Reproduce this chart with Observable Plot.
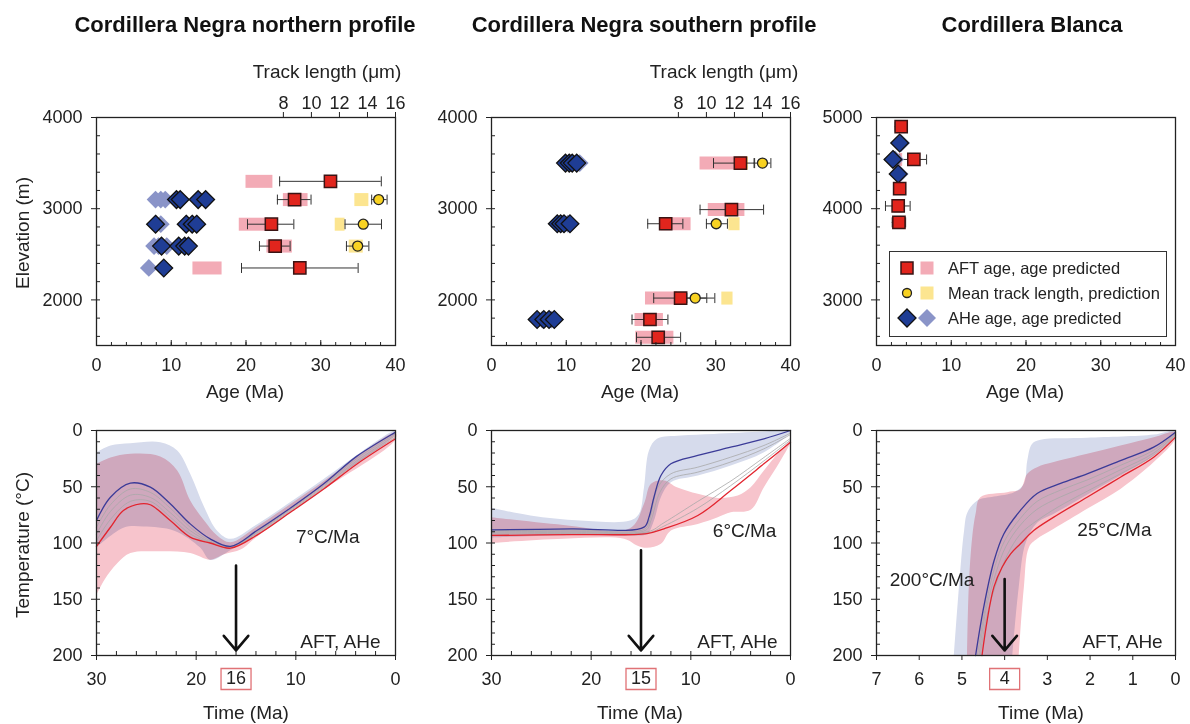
<!DOCTYPE html>
<html><head><meta charset="utf-8">
<script src="https://cdn.jsdelivr.net/npm/d3@7"></script>
<script src="https://cdn.jsdelivr.net/npm/@observablehq/plot@0.6"></script>
<style>
body{margin:0;background:#fff;font-family:"Liberation Sans",Arial,Helvetica,sans-serif;color:#222;}
#root{position:relative;width:1190px;height:724px;overflow:hidden;background:#fff;}
.t{position:absolute;white-space:nowrap;transform:translate(-50%,-50%);line-height:1;}
.title{font-weight:bold;font-size:22px;color:#111;}
.lab{font-size:19px;}
.rot{transform:translate(-50%,-50%) rotate(-90deg);}
</style></head><body><div id="root"></div>
<script>
// ---------------- data ----------------
const panelTitles = ["Cordillera Negra northern profile", "Cordillera Negra southern profile", "Cordillera Blanca"];
const trackTicks = [8, 10, 12, 14, 16];           // µm, top axis
const ageTicks = [0, 10, 20, 30, 40];

// Cordillera Negra northern profile
const northAFT = [
  {elev: 3300, age: 31.3, lo: 24.5, hi: 38.1},
  {elev: 3100, age: 26.5, lo: 24.2, hi: 28.7},
  {elev: 2830, age: 23.4, lo: 20.2, hi: 26.4},
  {elev: 2590, age: 23.9, lo: 21.8, hi: 25.9},
  {elev: 2350, age: 27.2, lo: 19.4, hi: 35.0}
];
const northAFTpred = [
  {elev: 3300, lo: 20.0, hi: 23.6},
  {elev: 3100, lo: 25.0, hi: 28.3},
  {elev: 2830, lo: 19.1, hi: 23.0},
  {elev: 2590, lo: 22.8, hi: 26.2},
  {elev: 2350, lo: 12.9, hi: 16.8}
];
const northMTL = [
  {elev: 3100, tl: 14.8, lo: 14.3, hi: 15.4},
  {elev: 2830, tl: 13.7, lo: 12.4, hi: 15.0},
  {elev: 2590, tl: 13.3, lo: 12.5, hi: 14.1}
];
const northMTLpred = [
  {elev: 3100, lo: 13.1, hi: 14.1},
  {elev: 2830, lo: 11.7, hi: 12.4},
  {elev: 2590, lo: 12.7, hi: 13.7}
];
const northAHe = [
  {elev: 3100, age: 10.7}, {elev: 3100, age: 11.2}, {elev: 3100, age: 13.6}, {elev: 3100, age: 14.6},
  {elev: 2830, age: 7.9}, {elev: 2830, age: 12.0}, {elev: 2830, age: 12.8}, {elev: 2830, age: 13.4},
  {elev: 2590, age: 8.7}, {elev: 2590, age: 11.0}, {elev: 2590, age: 11.8}, {elev: 2590, age: 12.3},
  {elev: 2350, age: 9.0}
];
const northAHePred = [
  {elev: 3100, age: 7.9}, {elev: 3100, age: 8.6}, {elev: 3100, age: 9.2},
  {elev: 2830, age: 8.6},
  {elev: 2590, age: 7.7}, {elev: 2590, age: 8.3}, {elev: 2590, age: 9.4},
  {elev: 2350, age: 7.0}
];

// Cordillera Negra southern profile
const southAFT = [
  {elev: 3500, age: 33.3, lo: 29.7, hi: 35.2},
  {elev: 2990, age: 32.1, lo: 27.9, hi: 36.4},
  {elev: 2835, age: 23.3, lo: 20.9, hi: 25.6},
  {elev: 2020, age: 25.3, lo: 21.7, hi: 28.8},
  {elev: 1785, age: 21.2, lo: 18.8, hi: 23.6},
  {elev: 1590, age: 22.3, lo: 19.4, hi: 25.3}
];
const southAFTpred = [
  {elev: 3500, lo: 27.9, hi: 34.2},
  {elev: 2990, lo: 29.0, hi: 33.9},
  {elev: 2835, lo: 22.7, hi: 26.7},
  {elev: 2020, lo: 20.6, hi: 24.9},
  {elev: 1785, lo: 19.2, hi: 23.0},
  {elev: 1590, lo: 19.3, hi: 24.4}
];
const southMTL = [
  {elev: 3500, tl: 14.0, lo: 13.4, hi: 14.6},
  {elev: 2835, tl: 10.7, lo: 10.0, hi: 11.5},
  {elev: 2020, tl: 9.2, lo: 8.6, hi: 10.6}
];
const southMTLpred = [
  {elev: 3500, lo: 12.3, hi: 13.0},
  {elev: 2835, lo: 11.6, hi: 12.4},
  {elev: 2020, lo: 11.1, hi: 11.9}
];
const southAHe = [
  {elev: 3500, age: 9.9}, {elev: 3500, age: 10.4}, {elev: 3500, age: 10.8}, {elev: 3500, age: 11.4},
  {elev: 2835, age: 8.8}, {elev: 2835, age: 9.25}, {elev: 2835, age: 9.7}, {elev: 2835, age: 10.5},
  {elev: 1785, age: 6.1}, {elev: 1785, age: 7.0}, {elev: 1785, age: 7.7}, {elev: 1785, age: 8.4}
];
const southAHePred = [
  {elev: 3500, age: 10.6}, {elev: 3500, age: 11.8},
  {elev: 2835, age: 9.4}, {elev: 2835, age: 10.2},
  {elev: 1785, age: 6.8}, {elev: 1785, age: 8.0}
];

// Cordillera Blanca
const blancaAFT = [
  {elev: 4900, age: 3.3, lo: 2.5, hi: 4.1},
  {elev: 4540, age: 5.0, lo: 3.1, hi: 6.7},
  {elev: 4220, age: 3.1, lo: 2.7, hi: 3.5},
  {elev: 4030, age: 2.9, lo: 1.2, hi: 4.5},
  {elev: 3850, age: 3.0, lo: 2.1, hi: 3.9}
];
const blancaAFTpred = [
  {elev: 4900, lo: 2.6, hi: 3.9},
  {elev: 4540, lo: 3.0, hi: 3.5},
  {elev: 4220, lo: 2.6, hi: 3.6},
  {elev: 4030, lo: 2.4, hi: 3.5},
  {elev: 3850, lo: 2.4, hi: 3.6}
];
const blancaAHe = [{elev: 4720, age: 3.1}, {elev: 4540, age: 2.2}, {elev: 4380, age: 2.9}];
const blancaAHePred = [{elev: 4720, age: 3.3}, {elev: 4540, age: 2.5}, {elev: 4380, age: 3.1}];

const legendLabels = ["AFT age, age predicted", "Mean track length, prediction", "AHe age, age predicted"];

// Thermal histories: [time (Ma), temperature (°C)]
const northBlue = [[30,80],[28.6,59.3],[26.6,46.8],[24.6,50.4],[22.6,65.2],[20.6,83],[18.6,96.3],[16.55,103],[13.9,88.9],[10.5,68.7],[7.2,47.4],[3.9,23],[0,1.5]];
const northRed = [[30,103],[28.6,86],[27.3,71.1],[25.6,65.2],[24.6,66],[22.6,80],[20.6,94.8],[18.6,100],[16.55,104.6],[13.9,93],[10.5,72.5],[7.2,52],[3.9,30],[0,7.4]];
const northGrays = [
  [[30,86],[28.6,66],[26.6,52],[24.6,55],[22.6,69],[20.6,86],[18.6,98],[16.55,103.3],[13.9,90],[10.5,70],[7.2,49],[3.9,25],[0,3]],
  [[30,92],[28.6,72],[26.6,57.5],[24.6,59.5],[22.6,73],[20.6,89],[18.6,99],[16.55,103.8],[13.9,91],[10.5,71],[7.2,50],[3.9,27],[0,4.5]],
  [[30,98],[28.6,79],[26.6,63],[24.6,63],[22.6,77],[20.6,92],[18.6,99.5],[16.55,104.2],[13.9,92],[10.5,72],[7.2,51],[3.9,28.5],[0,6]]
];
const northBlueEnv = [[30,19.3],[28.6,13.3],[26.6,11.3],[23.6,10.4],[21.9,17.8],[20.6,38.5],[19.2,68],[17.9,89],[16.55,96.3],[14,84],[8,48],[0,0],
  [0,3],[8,54],[14,92],[16.5,106],[18.6,115],[19.6,104],[22.2,89],[25.3,85.3],[27.3,86.5],[30,104]];
const northPinkEnv = [[30,29.6],[28.6,24],[26.6,20.7],[23.6,23],[21.9,35.5],[20.6,62.2],[19.2,80],[17.9,93.3],[16.55,99.3],[14,86],[8,50],[0,2],
  [0,8],[8,57],[14,95],[15.5,105.6],[17.2,110],[18.6,114.8],[20.6,108.9],[23.9,107.4],[26.6,108.9],[27.9,117.8],[29.2,132.6],[30,145.9]];

const southBlue = [[30,88.3],[22,87.5],[14.7,85.9],[14.2,77],[13.7,59.3],[13.0,40],[12.0,29.6],[9.3,22.2],[6.0,14.8],[2.67,7.4],[0,0]];
const southRed = [[30,93.3],[22,92.5],[14.4,91.6],[12.7,87.4],[9.3,75.6],[6.0,53.3],[2.67,29.6],[0,10.4]];
const southGrays = [
  [[30,89],[22,88.5],[14.6,87.4],[14.1,78],[13.3,50.4],[12.0,38.5],[9.3,32.6],[6.0,23.7],[2.67,13.3],[0,2.4]],
  [[30,90],[22,89.5],[14.5,88.5],[14.0,80],[13.1,54.8],[12.0,43],[9.3,37],[6.0,28],[2.67,16.3],[0,3.6]],
  [[30,91],[22,90.5],[14.3,90],[12.7,82],[9.3,63],[6.0,45],[2.67,24],[0,7]],
  [[30,92],[22,91.5],[14.3,91],[12.7,85],[9.3,69],[6.0,49],[2.67,27],[0,8.5]]
];
const southBlueEnv = [[30,68.7],[26.1,75.6],[21.1,80],[16.1,80],[15.2,74],[14.7,50.4],[14.2,17.8],[13.4,7.4],[11.0,4.4],[7.7,3],[2.67,0.9],[0,0],
  [0,1.5],[2.67,19.3],[6.0,31],[9.3,40],[12.0,46],[13.0,59],[13.7,80],[14.4,91.9],[16.1,93.3],[22.8,93],[30,95]];
const southPinkEnv = [[30,77],[22.8,83.9],[16.1,86.9],[14.7,65.2],[14.0,47.4],[12.7,44.4],[11.4,50.4],[9.3,56.3],[7.3,59.9],[5.3,57.8],[4.0,50.4],[2.67,35.6],[1.3,20.7],[0,8.9],
  [0,10.4],[1.0,26.7],[2.67,50.4],[4.0,70.5],[6.0,72.6],[7.3,77],[9.3,83],[12.0,88.9],[13.0,100.7],[14.4,104.3],[15.4,102.2],[16.7,96.3],[22.8,96.3],[30,100]];

const blancaBlue = [[4.68,200],[4.49,157],[4.25,116],[4.02,92],[3.63,71],[3.24,56],[2.69,47],[2.07,38.5],[1.29,26.7],[0.51,14.8],[0,1.5]];
const blancaRed = [[4.53,200],[4.41,169],[4.25,139],[4.06,121.5],[3.86,109.6],[3.63,100.7],[3.32,88.9],[2.85,77],[2.07,59.3],[1.29,41.5],[0.51,23.7],[0,5.9]];
const blancaGrays = [
  [[4.64,200],[4.45,157],[4.22,120],[4.0,98],[3.63,78],[3.24,63],[2.69,53],[2.07,44],[1.29,31],[0.51,17.5],[0,2.5]],
  [[4.6,200],[4.44,160],[4.2,126],[3.97,103],[3.63,84],[3.24,70],[2.69,59],[2.07,49],[1.29,35],[0.51,20],[0,3.5]],
  [[4.57,200],[4.42,165],[4.16,132],[3.93,110],[3.63,92],[3.24,80],[2.75,68],[2.07,54],[1.29,38.5],[0.51,22],[0,4.5]]
];
const blancaBlueEnv = [[5.19,200],[5.07,139],[4.95,89],[4.87,72.6],[4.64,62.2],[4.25,58.7],[3.78,54.8],[3.55,47.4],[3.47,26.7],[3.36,11.9],[3.16,8.3],[2.07,6.5],[0.51,3.6],[0,0],
  [0,3],[0.51,22],[1.29,40],[2.07,57],[2.85,74],[3.24,82],[3.51,100],[3.67,139],[3.82,200]];
const blancaPinkEnv = [[4.88,200],[4.84,139],[4.76,94.8],[4.68,74],[4.57,59.3],[3.94,54.8],[3.63,51.9],[3.47,38.5],[3.24,32.6],[2.85,28.1],[2.07,20.7],[1.29,13.3],[0.51,5.9],[0,1.5],
  [0,7.4],[0.51,28.1],[1.29,51.9],[2.07,69.6],[2.85,87.4],[3.24,96.3],[3.43,103.7],[3.55,139.3],[3.67,200]];

const onsetTimes = [16, 15, 4];            // Ma, boxed on the time axes
const coolingRates = ["7°C/Ma", "6°C/Ma", "25°C/Ma"];
const blancaEarlyRate = "200°C/Ma";
const systemsLabel = "AFT, AHe";

// ---------------- styling ----------------
const FONT = '"Liberation Sans", Arial, Helvetica, sans-serif';
const C = {
  pinkPred: "#f3abb6", yellowPred: "#fce590", lav: "#8a94c8", navy: "#1f3d95", red: "#e1251d", yellow: "#f8d222",
  blueEnv: "#d6dbec", pinkEnv: "#f7c4cc", blueLine: "#3b3b98", redLine: "#e2242e", gray: "#a8a8a8"
};
const tl2age = L => 10 + 1.875 * L;         // track-length axis spans 0–16 µm over 10–40 Ma
const age2tl = a => (a - 10) / 1.875;
const cap = {draw(ctx) { ctx.moveTo(0, -5); ctx.lineTo(0, 5); }};
const boxSym = {draw(ctx) { ctx.rect(-15, -10.5, 30, 21); }};
const blank = () => "";
const plain = d => String(d);
const baseStyle = {fontFamily: FONT, fontSize: "18px", color: "#222", background: "white", overflow: "visible"};

function topPanel(d) {
  const yMinor = d3.range(d.yDomain[1], d.yDomain[0], -200);
  const tlx = r => tl2age(r.tl), tllo = r => tl2age(r.lo), tlhi = r => tl2age(r.hi);
  const marks = [
    Plot.ruleY(d.mtlPred, {y: "elev", x1: tllo, x2: tlhi, stroke: C.yellowPred, strokeWidth: 13}),
    Plot.ruleY(d.aftPred, {y: "elev", x1: "lo", x2: "hi", stroke: C.pinkPred, strokeWidth: 13}),
    Plot.ruleY(d.aft, {y: "elev", x1: "lo", x2: "hi", stroke: "#333", strokeWidth: 1}),
    Plot.dot(d.aft, {y: "elev", x: "lo", symbol: cap, fill: "none", stroke: "#333", strokeWidth: 1}),
    Plot.dot(d.aft, {y: "elev", x: "hi", symbol: cap, fill: "none", stroke: "#333", strokeWidth: 1}),
    Plot.ruleY(d.mtl, {y: "elev", x1: tllo, x2: tlhi, stroke: "#333", strokeWidth: 1}),
    Plot.dot(d.mtl, {y: "elev", x: tllo, symbol: cap, fill: "none", stroke: "#333", strokeWidth: 1}),
    Plot.dot(d.mtl, {y: "elev", x: tlhi, symbol: cap, fill: "none", stroke: "#333", strokeWidth: 1}),
    Plot.dot(d.ahePred, {x: "age", y: "elev", symbol: "diamond2", r: 8, fill: C.lav}),
    Plot.dot(d.ahe, {x: "age", y: "elev", symbol: "diamond2", r: 8, fill: C.navy, stroke: "#111", strokeWidth: 1.3}),
    Plot.dot(d.aft, {x: "age", y: "elev", symbol: "square", r: 6.9, fill: C.red, stroke: "#3a1414", strokeWidth: 1.5}),
    Plot.dot(d.mtl, {x: tlx, y: "elev", r: 5, fill: C.yellow, stroke: "#222", strokeWidth: 1.3}),
    Plot.frame({stroke: "#222", strokeWidth: 1.3}),
    Plot.axisX({ticks: ageTicks, tickSize: 0, tickPadding: 12.5, tickFormat: plain, label: null}),
    Plot.axisX({ticks: d3.range(0, 41, 2), tickSize: -3, tickFormat: blank, label: null}),
    Plot.axisX({ticks: ageTicks, tickSize: -5, tickFormat: blank, label: null}),
    Plot.axisY({ticks: d.yTicks, tickSize: 5, tickPadding: 9, tickFormat: plain, label: null}),
    Plot.axisY({ticks: yMinor, tickSize: -4, tickFormat: blank, label: null})
  ];
  if (d.track) marks.push(Plot.axisX({anchor: "top", ticks: trackTicks.map(tl2age), tickFormat: a => String(Math.round(age2tl(a))), tickSize: 6, tickPadding: 3, label: null}));
  return Plot.plot({
    width: 381, height: 298, marginLeft: 70, marginRight: 12, marginTop: 40, marginBottom: 30,
    style: baseStyle,
    x: {domain: [0, 40]}, y: {domain: d.yDomain},
    marks
  });
}

function bottomPanel(d) {
  const xy = {x: p => p[0], y: p => p[1]};
  const marks = [
    Plot.line(d.pinkEnv, {...xy, fill: C.pinkEnv, stroke: "none", curve: "catmull-rom"}),
    Plot.line(d.blueEnv, {...xy, fill: C.blueEnv, stroke: "none", curve: "catmull-rom", mixBlendMode: "multiply"}),
    ...d.grays.map(g => Plot.line(g, {...xy, stroke: C.gray, strokeWidth: 0.8, curve: "catmull-rom"})),
    Plot.line(d.blue, {...xy, stroke: C.blueLine, strokeWidth: 1.3, curve: "catmull-rom"}),
    Plot.line(d.red, {...xy, stroke: C.redLine, strokeWidth: 1.3, curve: "catmull-rom"}),
    Plot.arrow([d.onset], {x1: t => t, x2: t => t, y1: d.arrowFrom, y2: 195.5, stroke: "#111", strokeWidth: 2.6, headLength: 11, headAngle: 80}),
    ...d.notes.map(n => Plot.text([n.text], {x: n.x, y: n.y, text: s => s, fontSize: 19, fill: "#222", textAnchor: n.anchor || "middle"})),
    Plot.frame({stroke: "#222", strokeWidth: 1.3}),
    Plot.axisY({ticks: [0, 50, 100, 150, 200], tickSize: 5, tickPadding: 9, tickFormat: plain, label: null}),
    Plot.axisY({ticks: d3.range(0, 201, 10), tickSize: -4, tickFormat: blank, label: null}),
    Plot.axisX({ticks: d.xLabels, tickSize: 0, tickPadding: 16.5, tickFormat: plain, label: null}),
    Plot.axisX({ticks: d.xMajor, tickSize: 5, tickFormat: blank, label: null}),
    Plot.dot([d.onset], {x: t => t, frameAnchor: "bottom", dy: 23.5, symbol: boxSym, fill: "none", stroke: "#e07276", strokeWidth: 1.3}),
    Plot.text([d.onset], {x: t => t, frameAnchor: "bottom", dy: 28.5, text: t => String(t), fontSize: 18, fill: "#222"})
  ];
  if (d.xMinor.length) marks.push(Plot.axisX({ticks: d.xMinor, tickSize: -4, tickFormat: blank, label: null}));
  return Plot.plot({
    width: 381, height: 277, marginLeft: 70, marginRight: 12, marginTop: 12, marginBottom: 40,
    style: baseStyle,
    x: {domain: d.xDomain}, y: {domain: [200, 0]},
    marks
  });
}

// ---------------- layout ----------------
const root = document.getElementById("root");
const frameLefts = [96, 491, 876];
function put(el, left, top) { el.style.position = "absolute"; el.style.left = left + "px"; el.style.top = top + "px"; root.appendChild(el); }
function txt(s, x, y, cls) { const e = document.createElement("div"); e.className = "t " + cls; e.textContent = s; e.style.left = x + "px"; e.style.top = y + "px"; root.appendChild(e); }

const tops = [
  topPanel({aft: northAFT, aftPred: northAFTpred, mtl: northMTL, mtlPred: northMTLpred, ahe: northAHe, ahePred: northAHePred, yDomain: [1500, 4000], yTicks: [2000, 3000, 4000], track: true}),
  topPanel({aft: southAFT, aftPred: southAFTpred, mtl: southMTL, mtlPred: southMTLpred, ahe: southAHe, ahePred: southAHePred, yDomain: [1500, 4000], yTicks: [2000, 3000, 4000], track: true}),
  topPanel({aft: blancaAFT, aftPred: blancaAFTpred, mtl: [], mtlPred: [], ahe: blancaAHe, ahePred: blancaAHePred, yDomain: [2500, 5000], yTicks: [3000, 4000, 5000], track: false})
];
tops.forEach((svg, i) => put(svg, frameLefts[i] - 70, 77));

const bottoms = [
  bottomPanel({xDomain: [30, 0], xLabels: [30, 20, 10, 0], xMajor: [30, 20, 10, 0], xMinor: d3.range(0, 31, 2),
    blue: northBlue, red: northRed, grays: northGrays, blueEnv: northBlueEnv, pinkEnv: northPinkEnv,
    onset: onsetTimes[0], arrowFrom: 120,
    notes: [{text: coolingRates[0], x: 6.8, y: 95}, {text: systemsLabel, x: 1.5, y: 188, anchor: "end"}]}),
  bottomPanel({xDomain: [30, 0], xLabels: [30, 20, 10, 0], xMajor: [30, 20, 10, 0], xMinor: d3.range(0, 31, 2),
    blue: southBlue, red: southRed, grays: southGrays, blueEnv: southBlueEnv, pinkEnv: southPinkEnv,
    onset: onsetTimes[1], arrowFrom: 106.5,
    notes: [{text: coolingRates[1], x: 4.6, y: 89}, {text: systemsLabel, x: 1.3, y: 188, anchor: "end"}]}),
  bottomPanel({xDomain: [7, 0], xLabels: [7, 6, 5, 3, 2, 1, 0], xMajor: d3.range(0, 8, 1), xMinor: [],
    blue: blancaBlue, red: blancaRed, grays: blancaGrays, blueEnv: blancaBlueEnv, pinkEnv: blancaPinkEnv,
    onset: onsetTimes[2], arrowFrom: 132,
    notes: [{text: coolingRates[2], x: 1.43, y: 88}, {text: blancaEarlyRate, x: 5.7, y: 133}, {text: systemsLabel, x: 0.3, y: 188, anchor: "end"}]})
];
bottoms.forEach((svg, i) => put(svg, frameLefts[i] - 70, 418));

// titles & axis names
[245, 644, 1032].forEach((x, i) => txt(panelTitles[i], x, 25, "title"));
[327, 724].forEach(x => txt("Track length (μm)", x, 71, "lab"));
[245, 640, 1025].forEach(x => txt("Age (Ma)", x, 391, "lab"));
[246, 640, 1041].forEach(x => txt("Time (Ma)", x, 712, "lab"));
txt("Elevation (m)", 22, 233, "lab rot");
txt("Temperature (°C)", 22, 545, "lab rot");

// legend (inside the Cordillera Blanca panel)
const syms = [
  `<rect x="11" y="5" width="12" height="12" fill="${C.red}" stroke="#3a1414" stroke-width="1.5"/><rect x="30.5" y="4.5" width="13" height="13" fill="${C.pinkPred}"/>`,
  `<circle cx="17" cy="11" r="4.5" fill="${C.yellow}" stroke="#222" stroke-width="1.3"/><rect x="30.5" y="4.5" width="13" height="13" fill="${C.yellowPred}"/>`,
  `<path d="M17,2 L26,11 L17,20 L8,11Z" fill="${C.navy}" stroke="#111" stroke-width="1.3"/><path d="M37,2 L46,11 L37,20 L28,11Z" fill="${C.lav}"/>`
];
const lg = document.createElement("div");
lg.style.cssText = "width:278px;height:86px;box-sizing:border-box;border:1.3px solid #333;background:#fff;";
lg.innerHTML = legendLabels.map((s, i) =>
  `<div style="position:absolute;left:0;top:${5 + i * 25}px;height:22px;width:276px;">` +
  `<svg width="50" height="22" style="position:absolute;left:0;top:0">${syms[i]}</svg>` +
  `<span style="position:absolute;left:58px;top:1px;font-size:16.5px;line-height:20px;white-space:nowrap;">${s}</span></div>`).join("");
put(lg, 889, 251);
</script></body></html>
